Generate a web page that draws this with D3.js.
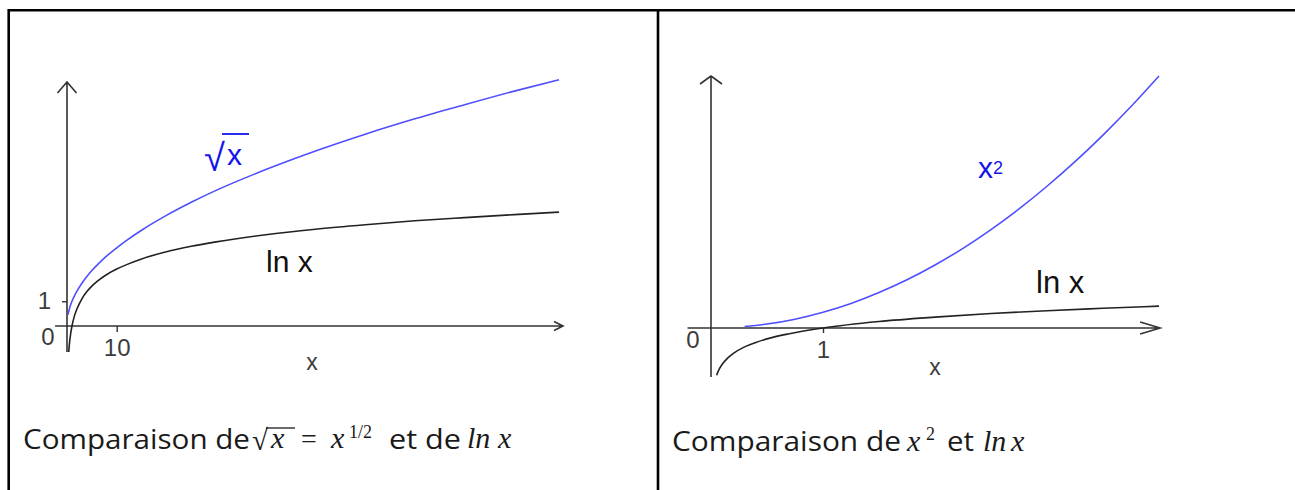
<!DOCTYPE html>
<html><head><meta charset="utf-8">
<script src="https://cdn.jsdelivr.net/npm/d3@7"></script>
<style>body{margin:0;background:#fff} svg{display:block}</style>
</head><body>
<svg id="c" width="1295" height="490"></svg>
<script>
// ---------- data ----------
// Left panel: sqrt(x) and ln(x), x from 0 to ~100
const leftSqrtX = [0.2, 0.35, 0.5, 0.75, 1, 1.5, 2, 3, 4, 5, 6, 8, 10, 12, 15, 20, 25, 30, 40, 50, 60, 70, 80, 90, 99];
const leftSqrtY = [0.45, 0.59, 0.71, 0.87, 1, 1.22, 1.41, 1.73, 2, 2.24, 2.45, 2.83, 3.16, 3.46, 3.87, 4.47, 5, 5.48, 6.32, 7.07, 7.75, 8.37, 8.94, 9.49, 9.95];
const leftLnX = [0.35, 0.5, 0.75, 1, 1.5, 2, 3, 4, 5, 6, 8, 10, 12, 15, 20, 25, 30, 40, 50, 60, 70, 80, 90, 99];
const leftLnY = [-1.05, -0.69, -0.29, 0, 0.41, 0.69, 1.10, 1.39, 1.61, 1.79, 2.08, 2.30, 2.48, 2.71, 3.00, 3.22, 3.40, 3.69, 3.91, 4.09, 4.25, 4.38, 4.50, 4.60];
const leftXTicks = [10], leftXTickLabels = ["10"];
const leftYTicks = [1], leftYTickLabels = ["1"];
// Right panel: x^2 and ln(x), x from 0 to 4
const rightSqX = [0.3, 0.5, 0.75, 1, 1.25, 1.5, 1.75, 2, 2.25, 2.5, 2.75, 3, 3.25, 3.5, 3.75, 4];
const rightSqY = [0.09, 0.25, 0.56, 1, 1.56, 2.25, 3.06, 4, 5.06, 6.25, 7.56, 9, 10.56, 12.25, 14.06, 16];
const rightLnX = [0.05, 0.07, 0.1, 0.15, 0.2, 0.3, 0.4, 0.5, 0.7, 1, 1.5, 2, 2.5, 3, 3.5, 4];
const rightLnY = [-3.0, -2.66, -2.30, -1.90, -1.61, -1.20, -0.92, -0.69, -0.36, 0, 0.41, 0.69, 0.92, 1.10, 1.25, 1.39];
const rightXTicks = [1], rightXTickLabels = ["1"];

// ---------- drawing ----------
const svg = d3.select("#c");
svg.append("rect").attr("width", 1295).attr("height", 490).attr("fill", "#fff");

const BLUE_LINE = "#4f4fff", BLUE_TEXT = "#1414ee", AXIS = "#333", LBL = "#3c3c3c";
const LABEL_FONT = "'Liberation Sans', Arial, sans-serif";
const CAP_FONT = "'Open Sans', Lato, sans-serif";
const MATH_FONT = "'Liberation Serif', 'DejaVu Serif', serif";

// table borders
svg.append("path").attr("d", "M8.7,490V10.3H1295M658,10.3V490")
  .attr("fill", "none").attr("stroke", "#000").attr("stroke-width", 2.6);

function zip(xs, ys) { return xs.map((x, i) => [x, ys[i]]); }

function panel(opts) {
  const g = svg.append("g");
  const x = opts.x, y = opts.y;
  const x0 = x(opts.axX[0]), x1 = x(opts.axX[1]), y0 = y(0);
  const yb = y(opts.axY[0]), yt = y(opts.axY[1]), xa = x(0);
  g.append("path").attr("d", `M${x0},${y0}H${x1}M${x1 - opts.ahx[0]},${y0 - opts.ahx[1]}L${x1},${y0}L${x1 - opts.ahx[0]},${y0 + opts.ahx[1]}`)
    .attr("fill", "none").attr("stroke", AXIS).attr("stroke-width", 1.6);
  g.append("path").attr("d", `M${xa},${yb}V${yt}M${xa - opts.ahy[0]},${yt + opts.ahy[1]}L${xa},${yt}L${xa + opts.ahy[0]},${yt + opts.ahy[1]}`)
    .attr("fill", "none").attr("stroke", AXIS).attr("stroke-width", 1.6);

  const ax = g.append("g").attr("transform", `translate(0,${y0})`)
    .call(d3.axisBottom(x).tickValues(opts.xTicks).tickFormat((d, i) => opts.xTickLabels[i]).tickSize(opts.xTickSize).tickPadding(opts.xPad));
  ax.select(".domain").remove();
  if (opts.yTicks) {
    const ay = g.append("g").attr("transform", `translate(${xa},0)`)
      .call(d3.axisLeft(y).tickValues(opts.yTicks).tickFormat((d, i) => opts.yTickLabels[i]).tickSize(5).tickPadding(opts.yPad));
    ay.select(".domain").remove();
  }
  g.selectAll(".tick line").attr("stroke", AXIS).attr("stroke-width", 1.4);
  g.selectAll(".tick text").attr("font-family", LABEL_FONT).attr("font-size", 24).attr("fill", LBL);

  const line = d3.line().x(d => x(d[0])).y(d => y(d[1])).curve(d3.curveMonotoneX);
  g.append("path").datum(zip(opts.bx, opts.by)).attr("d", line)
    .attr("fill", "none").attr("stroke", BLUE_LINE).attr("stroke-width", 1.6);
  g.append("path").datum(zip(opts.kx, opts.ky)).attr("d", line)
    .attr("fill", "none").attr("stroke", "#222").attr("stroke-width", 1.6);
  return g;
}

// Left panel
const xL = d3.scaleLinear([0, 100], [67, 564]);
const yL = d3.scaleLinear([0, 10], [326, 78.5]);
const gL = panel({ x: xL, y: yL, axX: [-2.4, 99.8], axY: [-1.05, 9.86], ahx: [9, 4.5], ahy: [9.5, 11],
  xTicks: leftXTicks, xTickLabels: leftXTickLabels, xTickSize: 6, xPad: 7,
  yTicks: leftYTicks, yTickLabels: leftYTickLabels, yPad: 11,
  bx: leftSqrtX, by: leftSqrtY, kx: leftLnX, ky: leftLnY });
gL.append("text").attr("x", 48).attr("y", 345).attr("text-anchor", "middle")
  .attr("font-family", LABEL_FONT).attr("font-size", 24).attr("fill", LBL).text("0");
gL.append("text").attr("x", 312).attr("y", 370).attr("text-anchor", "middle")
  .attr("font-family", LABEL_FONT).attr("font-size", 23).attr("fill", LBL).text("x");
// sqrt label
gL.append("text").attr("x", 204).attr("y", 171).attr("font-size", 38).attr("font-family", LABEL_FONT)
  .attr("fill", BLUE_TEXT).text("√");
gL.append("text").attr("x", 227).attr("y", 165).attr("font-size", 30).attr("font-family", LABEL_FONT)
  .attr("fill", BLUE_TEXT).text("x");
gL.append("line").attr("x1", 222).attr("x2", 249).attr("y1", 134).attr("y2", 134).attr("stroke", BLUE_TEXT).attr("stroke-width", 1.8);
gL.append("text").attr("x", 266).attr("y", 272).attr("font-family", LABEL_FONT).attr("font-size", 30).attr("fill", "#111").text("ln x");

// Right panel
const xR = d3.scaleLinear([0, 4], [711, 1159]);
const yR = d3.scaleLinear([0, 16], [328, 76]);
const gR = panel({ x: xR, y: yR, axX: [-0.21, 4.01], axY: [-3.11, 16], ahx: [20, 6], ahy: [11, 8],
  xTicks: rightXTicks, xTickLabels: rightXTickLabels, xTickSize: 5, xPad: 8,
  yTicks: null,
  bx: rightSqX, by: rightSqY, kx: rightLnX, ky: rightLnY });
gR.append("text").attr("x", 693).attr("y", 348).attr("text-anchor", "middle")
  .attr("font-family", LABEL_FONT).attr("font-size", 24).attr("fill", LBL).text("0");
gR.append("text").attr("x", 935).attr("y", 375).attr("text-anchor", "middle")
  .attr("font-family", LABEL_FONT).attr("font-size", 23).attr("fill", LBL).text("x");
const x2 = gR.append("text").attr("font-family", LABEL_FONT).attr("fill", BLUE_TEXT);
x2.append("tspan").attr("x", 978).attr("y", 178).attr("font-size", 30).text("x");
x2.append("tspan").attr("x", 993).attr("y", 174).attr("font-size", 18).text("2");
gR.append("text").attr("x", 1036).attr("y", 293).attr("font-family", LABEL_FONT).attr("font-size", 31).attr("fill", "#111").text("ln x");

// ---------- captions ----------
function capText(xpos, ypos, str, width) {
  return svg.append("text").attr("x", xpos).attr("y", ypos).attr("font-family", CAP_FONT)
    .attr("font-size", 27).attr("fill", "#1a1a1a")
    .attr("textLength", width).attr("lengthAdjust", "spacingAndGlyphs").text(str);
}
function mathT(xpos, ypos, str, size, italic) {
  return svg.append("text").attr("x", xpos).attr("y", ypos).attr("font-family", MATH_FONT)
    .attr("font-size", size).attr("font-style", italic ? "italic" : "normal").attr("fill", "#1a1a1a").text(str);
}
// left caption
capText(23, 449, "Comparaison de", 227);
mathT(252, 450, "√", 29, false);
svg.append("line").attr("x1", 266).attr("x2", 295).attr("y1", 428).attr("y2", 428).attr("stroke", "#1a1a1a").attr("stroke-width", 1.3);
mathT(271, 448, "x", 30, true);
mathT(301, 448, "=", 28, false);
mathT(331, 448, "x", 30, true);
mathT(349, 438, "1/2", 18, false);
capText(389, 449, "et de", 72);
mathT(467, 448, "ln", 30, true);
mathT(498, 448, "x", 30, true);
// right caption
capText(672, 451, "Comparaison de", 229);
mathT(907, 451, "x", 30, true);
mathT(926, 440, "2", 18, false);
capText(947, 451, "et", 27);
mathT(983, 451, "ln", 30, true);
mathT(1011, 451, "x", 30, true);
</script>
</body></html>
